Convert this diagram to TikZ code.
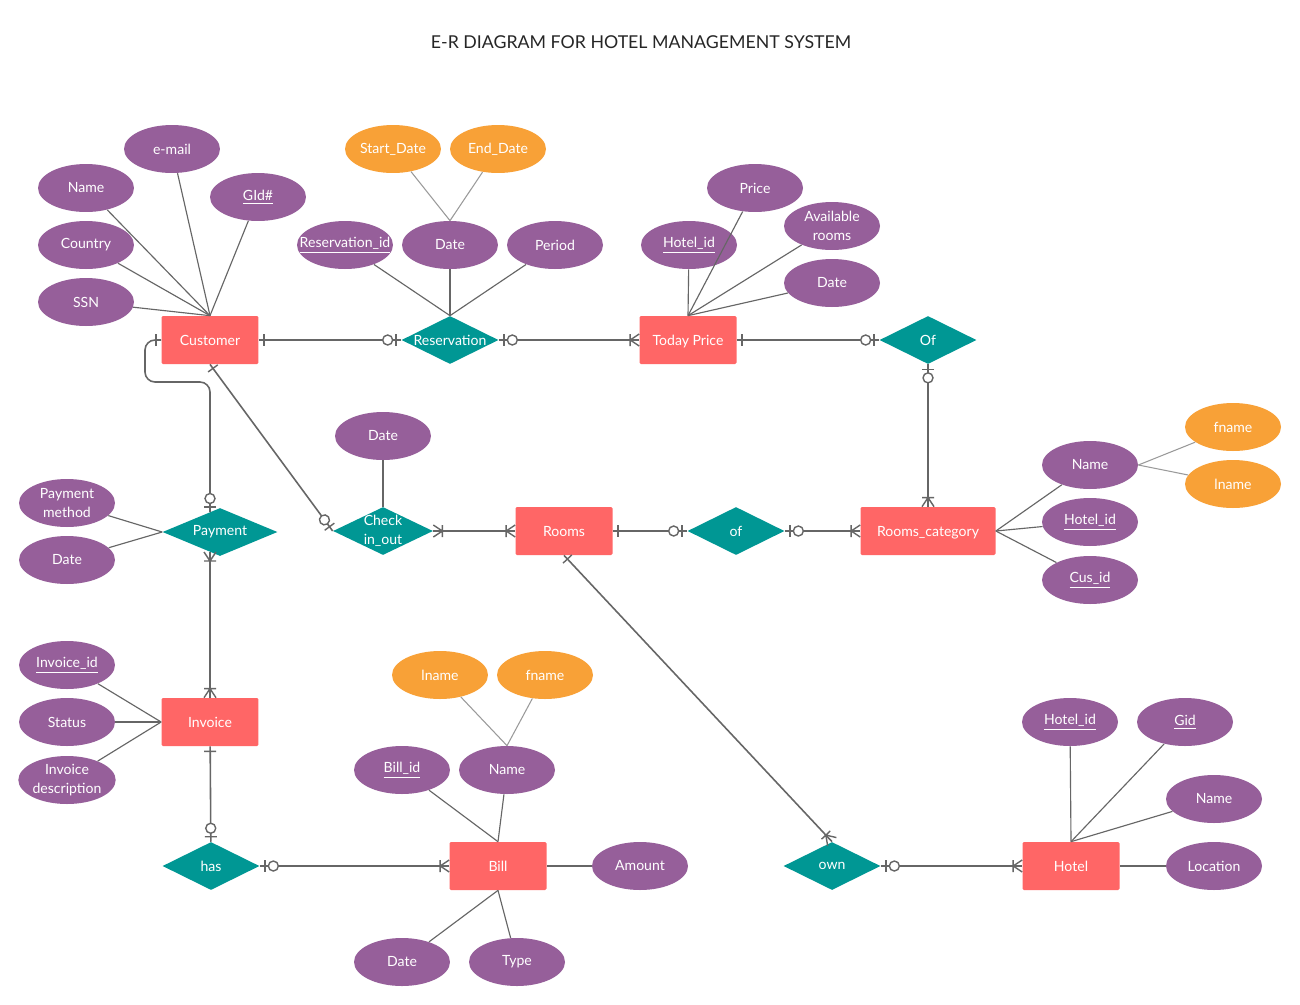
\documentclass[tikz,border=0pt]{standalone}
\usepackage{fontspec}
\setmainfont{Lato}
\usetikzlibrary{shapes.geometric,decorations.markings}
\definecolor{attc}{HTML}{965F9A}
\definecolor{orgc}{HTML}{F8A137}
\definecolor{entc}{HTML}{FF6666}
\definecolor{relc}{HTML}{009794}
\definecolor{lc}{HTML}{666666}
\definecolor{lc2}{HTML}{9A9A9A}
\tikzset{
  mkline/.style={draw=lc, line width=0.8pt},
  sbar/.style={postaction={decorate,decoration={markings,
      mark=at position 0.1cm with {\draw[mkline] (0,-6)--(0,6);}}}},
  ebar/.style={postaction={decorate,decoration={markings,
      mark=at position -0.1cm with {\draw[mkline] (0,-6)--(0,6);}}}},
  szo/.style={postaction={decorate,decoration={markings,
      mark=at position 0.1cm with {\draw[mkline] (0,-6)--(0,6);},
      mark=at position 0.27cm with {\draw[mkline,fill=white] (0,0) circle[radius=0.1cm];}}}},
  ezo/.style={postaction={decorate,decoration={markings,
      mark=at position -0.1cm with {\draw[mkline] (0,-6)--(0,6);},
      mark=at position -0.27cm with {\draw[mkline,fill=white] (0,0) circle[radius=0.1cm];}}}},
  smany/.style={postaction={decorate,decoration={markings,
      mark=at position 0.18cm with {\draw[mkline] (0,-6)--(0,6) (-9,6)--(0,0)--(-9,-6);}}}},
  emany/.style={postaction={decorate,decoration={markings,
      mark=at position -0.18cm with {\draw[mkline] (0,-6)--(0,6) (9,6)--(0,0)--(9,-6);}}}},
}
\begin{document}
\begin{tikzpicture}[x=0.02cm,y=-0.02cm,
  every node/.style={font=\fontsize{8}{10.5}\selectfont, text=white},
  attell/.style={ellipse, fill=attc, minimum width=1.92cm, minimum height=0.96cm, inner sep=0pt, align=center},
  orgell/.style={attell, fill=orgc},
  entbox/.style={rectangle, rounded corners=0.8pt, fill=entc, minimum width=1.94cm, minimum height=0.96cm, inner sep=0pt, text height=1.6ex, text depth=0.3ex},
  relbox/.style={diamond, fill=relc, minimum width=1.94cm, minimum height=0.96cm, inner sep=0pt},
  dtxt/.style={text=white, align=center, inner sep=0pt},
  conn/.style={draw=lc, line width=0.9pt},
  al/.style={draw=lc, line width=0.65pt},
  al2/.style={draw=lc2, line width=0.6pt}]
\useasboundingbox (0,0) rectangle (1300,1004);
\fill[white] (0,0) rectangle (1300,1004);

\node[text=black!85, font=\fontsize{10.1}{12}\selectfont] (title) at (641,42) {E-R DIAGRAM FOR HOTEL MANAGEMENT SYSTEM};

% entities
\node[entbox] (cust) at (210,340) {Customer};
\node[entbox] (tp) at (688,340) {Today Price};
\node[entbox] (rooms) at (564,531) {Rooms};
\node[entbox, minimum width=2.7cm] (rc) at (928,531) {Rooms\_category};
\node[entbox] (inv) at (210,722) {Invoice};
\node[entbox] (bill) at (498,866) {Bill};
\node[entbox] (hotel) at (1071,866) {Hotel};

% relationships
\node[relbox, label={[dtxt]center:Reservation}] (res) at (450,340) {};
\node[relbox, label={[dtxt]center:Of}] (of1) at (928,340) {};
\node[relbox, minimum width=2.3cm, label={[dtxt]center:Payment}] (pay) at (220,532) {};
\node[relbox, minimum width=2cm, label={[dtxt]center:Check\\in\_out}] (chk) at (383,531) {};
\node[relbox, label={[dtxt]center:of}] (of2) at (736,531) {};
\node[relbox, label={[dtxt]center:has}] (has) at (211,866) {};
\node[relbox, label={[dtxt]center:own}] (own) at (832,866) {};

% attributes
\node[attell] (cemail) at (172,149) {e-mail};
\node[attell] (cname) at (86,188) {Name};
\node[attell] (cgid) at (258,197) {\underline{GId\#}};
\node[attell] (ccountry) at (86,245) {Country};
\node[attell] (cssn) at (86,302) {SSN};

\node[orgell] (rsd) at (393,149) {Start\_Date};
\node[orgell] (red) at (498,149) {End\_Date};
\node[attell] (rid) at (345,245) {\makebox[0pt]{\underline{Reservation\_id}}};
\node[attell] (rdate) at (450,245) {Date};
\node[attell] (rper) at (555,245) {Period};

\node[attell] (tprice) at (755,188) {Price};
\node[attell] (tavail) at (832,226) {Available\\rooms};
\node[attell] (thid) at (689,245) {\underline{Hotel\_id}};
\node[attell] (tdate) at (832,283) {Date};

\node[attell] (chdate) at (383,436) {Date};

\node[orgell] (rcf) at (1233,427) {fname};
\node[orgell] (rcl) at (1233,484) {lname};
\node[attell] (rcname) at (1090,465) {Name};
\node[attell] (rchid) at (1090,522) {\underline{Hotel\_id}};
\node[attell] (rccid) at (1090,580) {\underline{Cus\_id}};

\node[attell] (pmeth) at (67,503) {Payment\\method};
\node[attell] (pdate) at (67,560) {Date};

\node[attell] (iid) at (67,665) {\underline{Invoice\_id}};
\node[attell] (istat) at (67,722) {Status};
\node[attell] (idesc) at (67,780) {Invoice\\description};

\node[orgell] (bl) at (440,675) {lname};
\node[orgell] (bf) at (545,675) {fname};
\node[attell] (bid) at (402,770) {\underline{Bill\_id}};
\node[attell] (bname) at (507,770) {Name};
\node[attell] (bamt) at (640,866) {Amount};
\node[attell] (bdate) at (402,962) {Date};
\node[attell] (btype) at (517,962) {Type};

\node[attell] (hhid) at (1070,722) {\underline{Hotel\_id}};
\node[attell] (hgid) at (1185,722) {\underline{Gid}};
\node[attell] (hname) at (1214,799) {Name};
\node[attell] (hloc) at (1214,866) {Location};

% attribute links
\foreach \a in {cemail,cname,cgid,ccountry,cssn} \draw[al] (\a) -- (cust.north);
\draw[al2] (rsd) -- (rdate.north);
\draw[al2] (red) -- (rdate.north);
\foreach \a in {rid,rdate,rper} \draw[al] (\a) -- (res.north);
\foreach \a in {tprice,tavail,thid,tdate} \draw[al] (\a) -- (tp.north);
\draw[al] (chdate) -- (chk.north);
\foreach \a in {rcname,rchid,rccid} \draw[al] (\a) -- (rc.east);
\draw[al2] (rcname.east) -- (rcf);
\draw[al2] (rcname.east) -- (rcl);
\foreach \a in {pmeth,pdate} \draw[al] (\a) -- (pay.west);
\foreach \a in {iid,istat,idesc} \draw[al] (\a) -- (inv.west);
\draw[al2] (bl) -- (bname.north);
\draw[al2] (bf) -- (bname.north);
\foreach \a in {bid,bname} \draw[al] (\a) -- (bill.north);
\draw[al] (bamt) -- (bill.east);
\foreach \a in {bdate,btype} \draw[al] (\a) -- (bill.south);
\foreach \a in {hhid,hgid,hname} \draw[al] (\a) -- (hotel.north);
\draw[al] (hloc) -- (hotel.east);

% connectors
\coordinate (payT) at (210,512);
\coordinate (payB) at (210,552);
\coordinate (cw1) at (145,340);
\coordinate (cw2) at (145,382);
\coordinate (cw3) at (210,382);
\draw[conn, sbar, ezo] (cust) -- (res);
\draw[conn, szo, emany] (res) -- (tp);
\draw[conn, sbar, ezo] (tp) -- (of1);
\draw[conn, szo, emany] (of1) -- (rc);
\draw[conn, sbar, ezo, rounded corners=0.2cm] (cust.west) -- (cw1) -- (cw2) -- (cw3) -- (payT);
\draw[conn, smany, emany] (payB) -- (inv.north);
\draw[conn, sbar, ezo] (inv) -- (has);
\draw[conn, szo, emany] (has) -- (bill);
\draw[conn, sbar, ezo] (cust.south) -- (chk.west);
\draw[conn, smany, emany] (chk) -- (rooms);
\draw[conn, sbar, ezo] (rooms) -- (of2);
\draw[conn, szo, emany] (of2) -- (rc);
\draw[conn, sbar, emany] (rooms.south) -- (own.north);
\draw[conn, szo, emany] (own) -- (hotel);
\end{tikzpicture}
\end{document}
